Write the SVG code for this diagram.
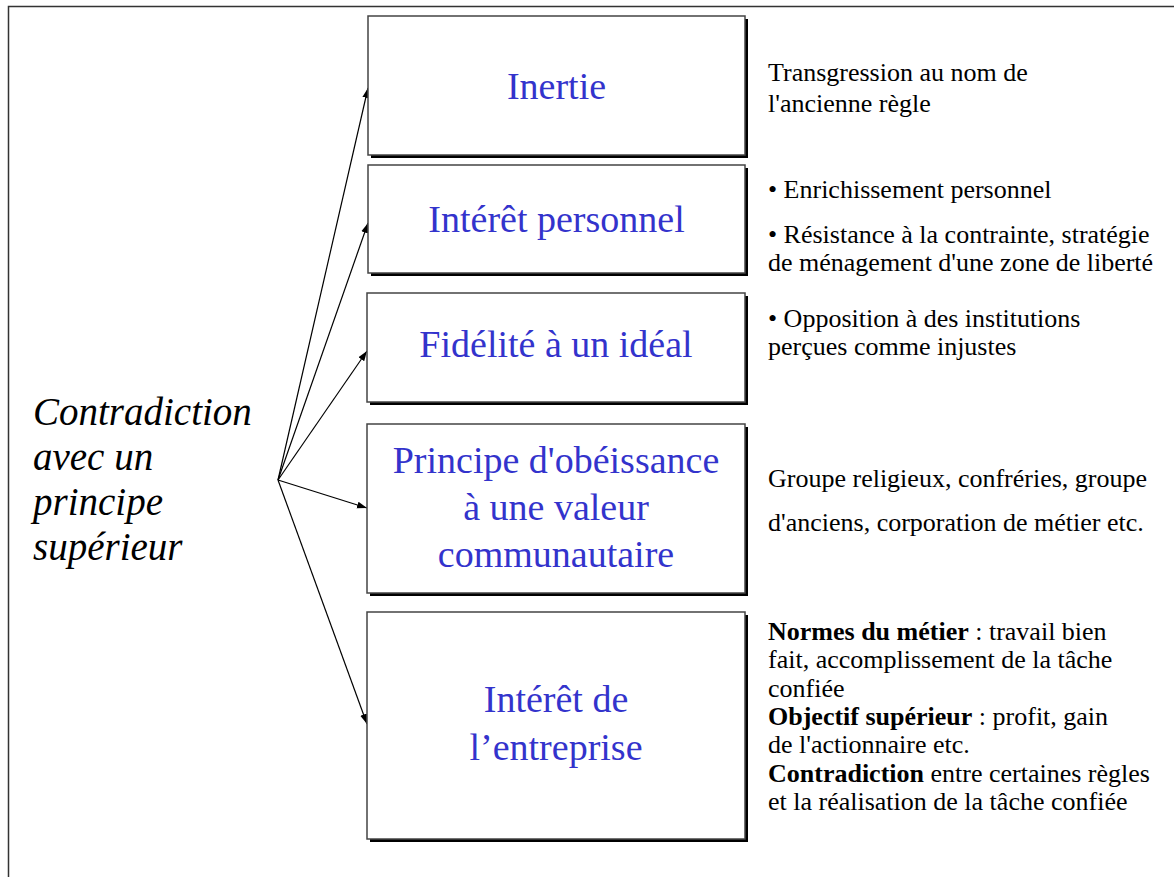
<svg xmlns="http://www.w3.org/2000/svg" width="1174" height="877" viewBox="0 0 1174 877">
<style>
.frame{stroke:#333;stroke-width:1.5;fill:none}
.shadow{fill:#000}
.box{fill:#fff;stroke:#444;stroke-width:1.5}
text{font-family:'Liberation Serif','Times New Roman',Times,'Nimbus Roman','Nimbus Roman No9 L','Noto Serif',FreeSerif,Tinos,'DejaVu Serif',serif}
.lbl{font-size:38px;fill:#3333cc;text-anchor:middle}
.side{font-size:26px;fill:#000}
.main{font-size:39px;font-style:italic;fill:#000}
.conn{stroke:#000;stroke-width:1.2;fill:none;marker-end:url(#ah)}
.b{font-weight:bold}
</style>
<defs>
<marker id="ah" viewBox="0 0 10 10" refX="10" refY="5" markerWidth="10" markerHeight="10" markerUnits="userSpaceOnUse" orient="auto">
<path d="M0,1.5 L10,5 L0,8.5 z" fill="#000"/>
</marker>
</defs>
<rect width="1174" height="877" fill="#fff"/>
<path class="frame" d="M8.5,877 V6.5 H1174"/>

<g id="source">
<text class="main" x="33" y="425">Contradiction</text>
<text class="main" x="33" y="470">avec un</text>
<text class="main" x="33" y="515">principe</text>
<text class="main" x="33" y="560">supérieur</text>
</g>

<g id="connectors">
<line class="conn" x1="278" y1="480" x2="368" y2="88"/>
<line class="conn" x1="278" y1="480" x2="368" y2="223"/>
<line class="conn" x1="278" y1="480" x2="367" y2="351"/>
<line class="conn" x1="278" y1="480" x2="367" y2="508"/>
<line class="conn" x1="278" y1="480" x2="367" y2="724"/>
</g>

<g id="n-inertie">
<rect class="shadow" x="371" y="19" width="377" height="139"/>
<rect class="box" x="368" y="16" width="377" height="139"/>
<text class="lbl" x="556.5" y="99">Inertie</text>
</g>

<g id="n-interet-personnel">
<rect class="shadow" x="371" y="168" width="377" height="108"/>
<rect class="box" x="368" y="165" width="377" height="108"/>
<text class="lbl" x="556.5" y="232">Intérêt personnel</text>
</g>

<g id="n-fidelite">
<rect class="shadow" x="370" y="296" width="378" height="109"/>
<rect class="box" x="367" y="293" width="378" height="109"/>
<text class="lbl" x="556" y="357">Fidélité à un idéal</text>
</g>

<g id="n-principe">
<rect class="shadow" x="370" y="427" width="378" height="169"/>
<rect class="box" x="367" y="424" width="378" height="169"/>
<text class="lbl" x="556" y="473">Principe d'obéissance</text>
<text class="lbl" x="556" y="520">à une valeur</text>
<text class="lbl" x="556" y="567">communautaire</text>
</g>

<g id="n-entreprise">
<rect class="shadow" x="370" y="615" width="378" height="227"/>
<rect class="box" x="367" y="612" width="378" height="227"/>
<text class="lbl" x="556" y="712">Intérêt de</text>
<text class="lbl" x="556" y="760">l’entreprise</text>
</g>

<g id="d-inertie">
<text class="side" x="768" y="81">Transgression au nom de</text>
<text class="side" x="768" y="112">l'ancienne règle</text>
</g>

<g id="d-interet-personnel">
<text class="side" x="768" y="198">• Enrichissement personnel</text>
<text class="side" x="768" y="243">• Résistance à la contrainte, stratégie</text>
<text class="side" x="768" y="271">de ménagement d'une zone de liberté</text>
</g>

<g id="d-fidelite">
<text class="side" x="768" y="327">• Opposition à des institutions</text>
<text class="side" x="768" y="355">perçues comme injustes</text>
</g>

<g id="d-principe">
<text class="side" x="768" y="487">Groupe religieux, confréries, groupe</text>
<text class="side" x="768" y="531">d'anciens, corporation de métier etc.</text>
</g>

<g id="d-entreprise">
<text class="side" x="768" y="640"><tspan class="b">Normes du métier</tspan> : travail bien</text>
<text class="side" x="768" y="668">fait, accomplissement de la tâche</text>
<text class="side" x="768" y="697">confiée</text>
<text class="side" x="768" y="725"><tspan class="b">Objectif supérieur</tspan> : profit, gain</text>
<text class="side" x="768" y="753">de l'actionnaire etc.</text>
<text class="side" x="768" y="782"><tspan class="b">Contradiction</tspan> entre certaines règles</text>
<text class="side" x="768" y="810">et la réalisation de la tâche confiée</text>
</g>
</svg>
